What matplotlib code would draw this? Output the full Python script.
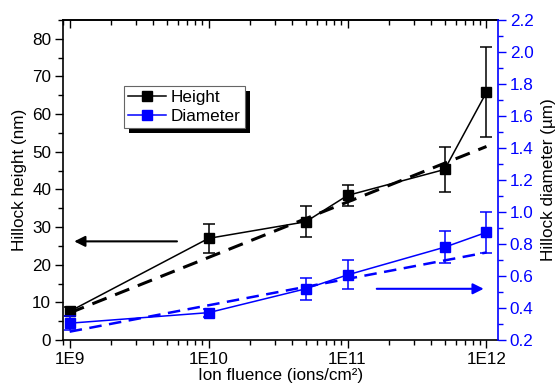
import numpy as np
import matplotlib
matplotlib.use("Agg")
import matplotlib.pyplot as plt
from matplotlib.ticker import FixedLocator, MultipleLocator, LogLocator, NullFormatter, FormatStrFormatter
from matplotlib.lines import Line2D
from matplotlib.patches import Rectangle
from matplotlib.transforms import IdentityTransform

plt.rcParams['font.family'] = ['Liberation Sans', 'DejaVu Sans']

fluence = [1e9, 1e10, 5e10, 1e11, 5e11, 1e12]
height = [7.6, 27.0, 31.4, 38.4, 45.3, 65.8]
height_err = [1.2, 3.9, 4.1, 2.8, 6.0, 12.0]
diameter = [0.305, 0.371, 0.52, 0.607, 0.78, 0.873]
diameter_err = [0.045, 0.025, 0.07, 0.09, 0.1, 0.13]

fit_x = [1e9, 1e12]
height_fit = [7.2, 51.4]
diameter_fit = [0.252, 0.747]

xtick_vals = [1e9, 1e10, 1e11, 1e12]
xtick_labels = ['1E9', '1E10', '1E11', '1E12']

BLUE = '#0000ff'
fs = 12.3

fig = plt.figure(figsize=(5.55, 3.89), dpi=100)
ax = fig.add_axes([63/555, 49/389, 435/555, 320/389])
ax2 = ax.twinx()

# Height
ax.errorbar(fluence, height, yerr=height_err, color='black', marker='s', ms=6.5,
            lw=1.1, capsize=4, elinewidth=1.1, capthick=1.1, zorder=3)
ax.plot(fit_x, height_fit, color='black', lw=2.2, ls=(0, (5, 3)), zorder=2)

# Diameter
ax2.errorbar(fluence, diameter, yerr=diameter_err, color=BLUE, marker='s', ms=6.5,
             lw=1.1, capsize=4, elinewidth=1.1, capthick=1.1, zorder=3)
ax2.plot(fit_x, diameter_fit, color=BLUE, lw=1.8, ls=(0, (5, 3)), zorder=2)

ax.set_xscale('log')
ax.set_xlim(10**8.952, 10**12.083)
ax.set_ylim(0, 85)
ax2.set_ylim(0.2, 2.2)

ax.xaxis.set_major_locator(FixedLocator(xtick_vals))
ax.set_xticklabels(xtick_labels)
ax.xaxis.set_minor_locator(LogLocator(base=10, subs=np.arange(2, 10)))
ax.xaxis.set_minor_formatter(NullFormatter())

ax.yaxis.set_major_locator(MultipleLocator(10))
ax.yaxis.set_minor_locator(MultipleLocator(5))
ax2.yaxis.set_major_locator(MultipleLocator(0.2))
ax2.yaxis.set_minor_locator(MultipleLocator(0.1))
ax2.yaxis.set_major_formatter(FormatStrFormatter('%.1f'))

ax.tick_params(axis='both', which='major', direction='out', length=6, width=1,
               labelsize=fs, pad=2.5)
ax.tick_params(axis='both', which='minor', direction='out', length=3.5, width=1)
ax2.tick_params(axis='y', which='major', direction='out', length=6, width=1,
                colors=BLUE, labelsize=fs, pad=2.5)
ax2.tick_params(axis='y', which='minor', direction='out', length=3.5, width=1, colors=BLUE)

sec = ax.secondary_xaxis('top')
sec.xaxis.set_major_locator(FixedLocator(xtick_vals))
sec.xaxis.set_minor_locator(LogLocator(base=10, subs=np.arange(2, 10)))
sec.tick_params(which='major', direction='in', length=6, width=1, labeltop=False)
sec.tick_params(which='minor', direction='in', length=3.5, width=1)
sec.xaxis.set_major_formatter(NullFormatter())
sec.xaxis.set_minor_formatter(NullFormatter())
sec.spines['top'].set_linewidth(1.2)

for s in ['left', 'bottom', 'top']:
    ax.spines[s].set_linewidth(1.2)
ax.spines['right'].set_visible(False)
ax2.spines['left'].set_visible(False)
ax2.spines['top'].set_visible(False)
ax2.spines['bottom'].set_visible(False)
ax2.spines['right'].set_color(BLUE)
ax2.spines['right'].set_linewidth(1.2)

ax.set_xlabel('Ion fluence (ions/cm\u00b2)', fontsize=fs)
ax.xaxis.set_label_coords(0.5, -0.088)
ax.set_ylabel('Hillock height (nm)', fontsize=fs)
ax.yaxis.set_label_coords(-0.083, 0.5)
ax2.set_ylabel('Hillock diameter (\u00b5m)', fontsize=fs, color='black')
ax2.yaxis.set_label_coords(1.1, 0.5)

# arrows
ax.annotate('', xy=(1.03e9, 26.2), xytext=(6.2e9, 26.2),
            arrowprops=dict(arrowstyle='-|>', color='black', lw=1.5, mutation_scale=16))
ax2.annotate('', xy=(1.0e12, 0.52), xytext=(1.55e11, 0.52),
             arrowprops=dict(arrowstyle='-|>', color=BLUE, lw=1.5, mutation_scale=16))

handles = [Line2D([], [], color='black', marker='s', ms=6.5, lw=1.1),
           Line2D([], [], color=BLUE, marker='s', ms=6.5, lw=1.1)]
leg = ax2.legend(handles, ['Height', 'Diameter'], loc='upper left',
                 bbox_to_anchor=(0.140, 0.794),
                 fontsize=fs, fancybox=False, framealpha=1, edgecolor='#666666',
                 borderaxespad=0, handlelength=2.2, handletextpad=0.3, borderpad=0.25,
                 labelspacing=0.2)
leg.get_frame().set_linewidth(0.8)
leg.set_zorder(10)

fig.canvas.draw()
bb = leg.get_window_extent()
shadow = Rectangle((bb.x0 + 5, bb.y0 - 5), bb.width, bb.height, transform=IdentityTransform(),
                   facecolor='black', edgecolor='none', zorder=9, clip_on=False)
ax2.add_artist(shadow)

fig.savefig('out.png', dpi=100)
